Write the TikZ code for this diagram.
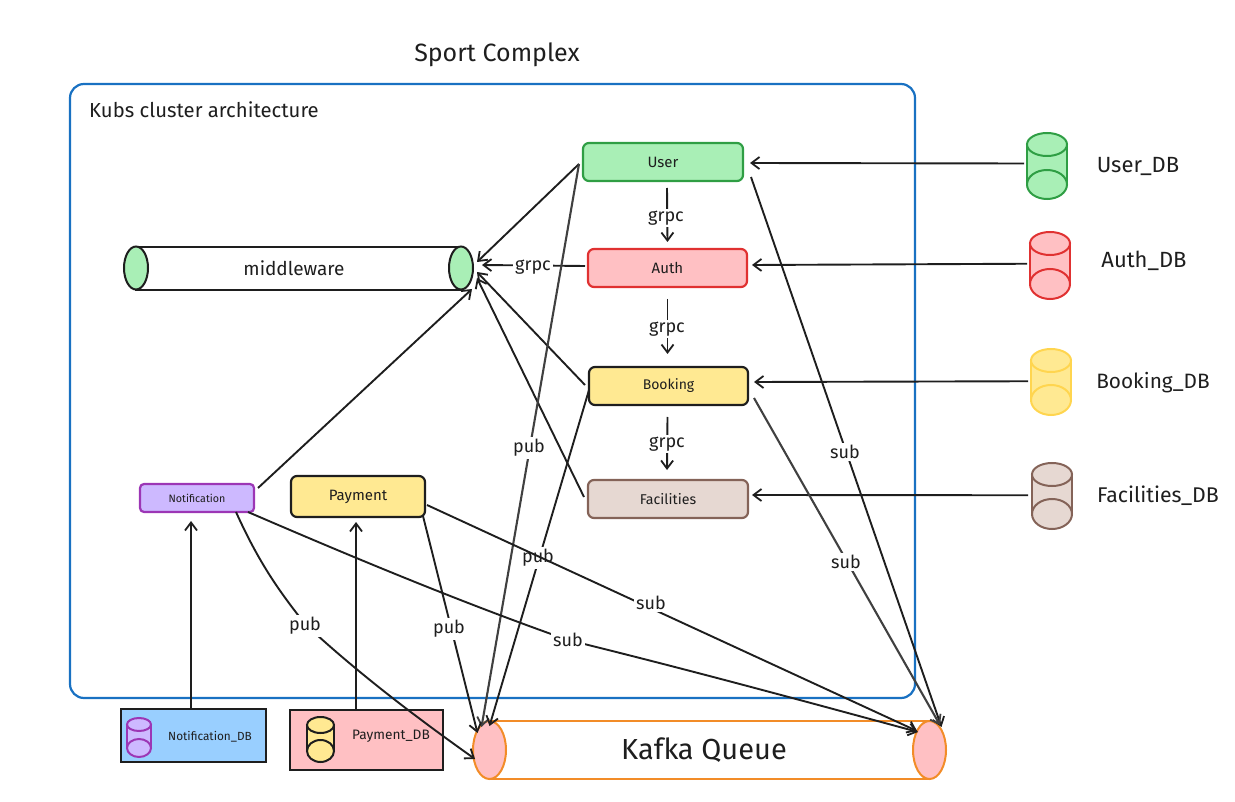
\documentclass[tikz,border=0pt]{standalone}
\usepackage{fontspec}
\setmainfont{Fira Sans}
\usetikzlibrary{shapes.geometric,arrows.meta}
\definecolor{ink}{HTML}{1E1E1E}
\definecolor{inkb}{HTML}{404040}
\definecolor{frameblue}{HTML}{1971C2}
\definecolor{greenF}{HTML}{A9EFB6}\definecolor{greenS}{HTML}{2F9E44}
\definecolor{redF}{HTML}{FFC0C3}\definecolor{redS}{HTML}{E03131}
\definecolor{yelF}{HTML}{FFE992}\definecolor{yelS}{HTML}{FFD54F}
\definecolor{brownF}{HTML}{E6D8D2}\definecolor{brownS}{HTML}{846358}
\definecolor{purF}{HTML}{CDB9FF}\definecolor{purS}{HTML}{9C36B5}
\definecolor{blueF}{HTML}{99CFFF}
\definecolor{orangeS}{HTML}{F28C28}
\newcommand{\fsz}[1]{\fontsize{#1}{#1}\selectfont}
\tikzset{
 x=1pt,y=-1pt,
 box/.style={draw,rectangle,rounded corners=6pt,line width=2.2pt,inner sep=0pt,outer sep=0pt},
 plainbox/.style={draw=ink,rectangle,line width=2pt,inner sep=0pt,outer sep=0pt},
 endcap/.style={draw,ellipse,line width=2pt,inner sep=0pt,outer sep=0pt},
 txt/.style={inner sep=0pt,text=ink},
 lab/.style={fill=white,inner sep=2pt,text=ink,font=\fsz{18}},
 conn/.style={draw=ink,line width=1.9pt,-{Straight Barb[length=8pt,width=12pt,line width=1.8pt]}},
 conngrey/.style={conn,draw=inkb,line width=2.1pt},
}
% name, cx, top, bottom, rx, ry top, ry bottom, fill, stroke
\newcommand{\dbcyl}[9]{%
 \pgfmathsetmacro{\cyT}{#3+#6}\pgfmathsetmacro{\cyB}{#4-#7}%
 \node[rectangle,fill=#8,inner sep=0pt,outer sep=0pt,minimum width=2*#5,minimum height=#4-#3-#6-#7] (#1) at (#2,{(\cyT+\cyB)/2}) {};
 \node[endcap,draw=#9,fill=#8,minimum width=2*#5,minimum height=2*#7] (#1B) at (#2,\cyB) {};
 \draw[draw=#9,line width=2pt] (#1.north west) -- (#1.south west) (#1.north east) -- (#1.south east);
 \node[endcap,draw=#9,fill=#8,minimum width=2*#5,minimum height=2*#6] (#1T) at (#2,\cyT) {};
}
\begin{document}
\begin{tikzpicture}
\useasboundingbox (0,0) rectangle (1235,802);
\node[txt,font=\fsz{25}] (title) at (497,55) {Sport Complex};
\node[draw=frameblue,rectangle,rounded corners=14pt,line width=2.2pt,outer sep=0pt,minimum width=845,minimum height=614] (cluster) at (492.5,391) {};
\node[txt,font=\fsz{20.3},anchor=west] (kubs) at (89,110) {Kubs cluster architecture};

% service boxes
\node[box,draw=greenS,fill=greenF,minimum width=160,minimum height=38,font=\fsz{15},text=ink] (user) at (663,162) {User};
\node[box,draw=redS,fill=redF,minimum width=159,minimum height=38,font=\fsz{15},text=ink] (auth) at (667.5,268) {Auth};
\node[box,draw=ink,fill=yelF,minimum width=159,minimum height=38,font=\fsz{14},text=ink] (booking) at (668.5,386) {Booking};
\node[box,draw=brownS,fill=brownF,minimum width=160,minimum height=38,font=\fsz{14.2},text=ink] (facilities) at (668,499) {Facilities};
\node[box,draw=purS,fill=purF,minimum width=114,minimum height=28,rounded corners=4pt,font=\fsz{10.7},text=ink] (notification) at (197,498) {Notification};
\node[box,draw=ink,fill=yelF,minimum width=134,minimum height=41,font=\fsz{15},text=ink] (payment) at (358,496.5) {Payment};

% middleware cylinder
\node[rectangle,draw=ink,line width=1.8pt,outer sep=0pt,minimum width=325,minimum height=43] (mwbody) at (298.5,268.5) {};
\node[endcap,draw=ink,fill=greenF,minimum width=24,minimum height=43] (mwL) at (136,268) {};
\node[endcap,draw=ink,fill=greenF,minimum width=24,minimum height=43] (mwR) at (461,268) {};
\node[txt,font=\fsz{19}] (mwtext) at (294,268) {middleware};

% kafka cylinder
\node[rectangle,draw=orangeS,line width=2pt,outer sep=0pt,minimum width=440,minimum height=58] (kbody) at (709,750) {};
\node[endcap,draw=orangeS,fill=redF,minimum width=33,minimum height=58] (kafkaL) at (489.5,750) {};
\node[endcap,draw=orangeS,fill=redF,minimum width=33,minimum height=58] (kafkaR) at (929.5,750) {};
\node[txt,font=\fsz{29}] (ktext) at (704,750) {Kafka Queue};

% databases
\dbcyl{userdb}{1047}{133}{199}{20}{11.5}{14.5}{greenF}{greenS}
\dbcyl{authdb}{1050}{232}{299}{20}{11.5}{15}{redF}{redS}
\dbcyl{bookingdb}{1051}{349}{415}{20}{11.5}{15}{yelF}{yelS}
\dbcyl{facdb}{1052}{463}{529}{20}{11.5}{15}{brownF}{brownS}
\node[txt,font=\fsz{22}] (userdbt) at (1138,166) {User\_DB};
\node[txt,font=\fsz{22}] (authdbt) at (1144,261) {Auth\_DB};
\node[txt,font=\fsz{20.8}] (bookingdbt) at (1153,383) {Booking\_DB};
\node[txt,font=\fsz{21.3}] (facdbt) at (1158,496) {Facilities\_DB};

\node[plainbox,fill=blueF,minimum width=145,minimum height=53] (ndbbox) at (193.5,735.5) {};
\dbcyl{ndb}{139}{718}{757}{12}{6.5}{9}{purF}{purS}
\node[txt,font=\fsz{11.8}] (ndbt) at (210,737) {Notification\_DB};
\node[plainbox,fill=redF,minimum width=153,minimum height=60] (pdbbox) at (366.5,740) {};
\dbcyl{pdb}{320.5}{717}{762}{13.5}{8}{11}{yelF}{ink}
\node[txt,font=\fsz{13.7}] (pdbt) at (391,736) {Payment\_DB};

% to middleware
\draw[conn] ([shift={(-4,2)}]user.west) -- ([shift={(4,-6)}]mwR.east);
\draw[conn] ([shift={(-3,-2)}]auth.west) -- ([shift={(9,-3)}]mwR.east);
\draw[conn] ([shift={(-4,-1)}]booking.west) -- ([shift={(4,4)}]mwR.east);
\draw[conn] ([shift={(-4,-2)}]facilities.west) -- ([shift={(4,10)}]mwR.east);
\draw[conn] ([shift={(4,-10)}]notification.east) -- ([shift={(-1,21)}]mwR.east);
% grpc chain
\draw[conn] ([shift={(4,7)}]user.south) -- ([shift={(0,-7)}]auth.north);
\draw[conn] ([shift={(0,12)}]auth.south) -- ([shift={(-1,-13)}]booking.north);
\draw[conn] ([shift={(-1,12)}]booking.south) -- ([shift={(-1,-10)}]facilities.north);
% db to service
\draw[conn] ([shift={(-3,-1)}]userdb.west) -- ([shift={(7,1)}]user.east);
\draw[conn] ([shift={(-3,0)}]authdb.west) -- ([shift={(5,-3)}]auth.east);
\draw[conn] ([shift={(-3,1)}]bookingdb.west) -- ([shift={(6,-4)}]booking.east);
\draw[conn] ([shift={(-4,1)}]facdb.west) -- ([shift={(4,-4)}]facilities.east);
\draw[conn] ([shift={(-2.5,0)}]ndbbox.north) -- ([shift={(-6,9)}]notification.south);
\draw[conn] ([shift={(-10.5,0)}]pdbbox.north) -- ([shift={(-2,5)}]payment.south);
% pub
\draw[conngrey] ([shift={(-4,2)}]user.west) -- ([shift={(-8,6)}]kafkaL.north);
\draw[conn] ([shift={(0,4)}]booking.west) -- ([shift={(0,5)}]kafkaL.north);
\draw[conn] ([shift={(65,-1)}]payment.south) -- ([shift={(-12,12)}]kafkaL.north);
\draw[conn] ([shift={(39,0)}]notification.south) .. controls (260,565) and (280,592) .. (305,624) .. controls (360,675) and (420,720) .. ([shift={(2,9)}]kafkaL.west);
% sub
\draw[conn] ([shift={(8,15)}]user.east) -- ([shift={(12,6)}]kafkaR.north);
\draw[conngrey] ([shift={(6,12)}]booking.east) -- ([shift={(10.5,4)}]kafkaR.north);
\draw[conn] ([shift={(51,0)}]notification.south) .. controls (350,556) and (460,602) .. (568,640) .. controls (690,670) and (800,700) .. ([shift={(5,-18)}]kafkaR.west);

% the pub label on the booking line lies under the payment sub line
\node[lab] (l6) at (538,558) {pub};
\draw[conn] ([shift={(2,8.5)}]payment.east) -- ([shift={(4,-19)}]kafkaR.west);

% edge labels
\node[lab] (l1) at (533,267) {grpc};
\node[lab] (l2) at (666,218) {grpc};
\node[lab] (l3) at (667,329) {grpc};
\node[lab] (l4) at (667,444) {grpc};
\node[lab] (l5) at (529,448) {pub};
\node[lab] (l7) at (305,626) {pub};
\node[lab] (l8) at (449,629) {pub};
\node[lab] (l9) at (845,452) {sub};
\node[lab] (l10) at (846,562) {sub};
\node[lab] (l11) at (651,603) {sub};
\node[lab] (l12) at (568,640) {sub};
\end{tikzpicture}
\end{document}
